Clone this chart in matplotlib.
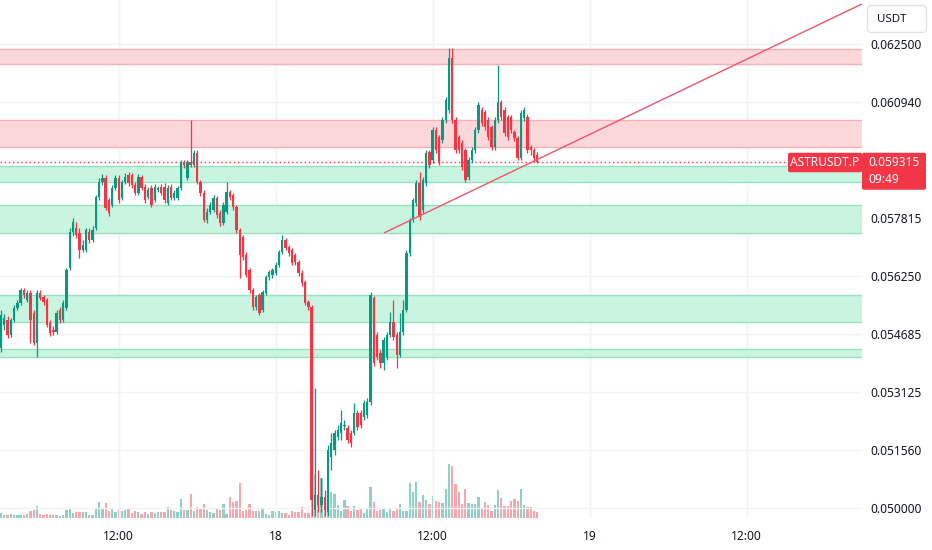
import matplotlib
matplotlib.use("Agg")
import matplotlib.pyplot as plt
from matplotlib.patches import FancyBboxPatch
import numpy as np

plt.rcParams['font.family'] = ['Noto Sans', 'DejaVu Sans']

# ---------------- data (15-minute candles, ASTRUSDT.P) ----------------
opens = [
0.054311,0.054930,0.055065,0.054661,0.055065,0.055389,0.055523,0.055873,0.055604,0.055793,
0.055254,0.054446,0.055793,0.055685,0.055604,0.054984,0.054796,0.054742,0.055335,0.055065,
0.055389,0.056466,0.057436,0.057544,0.057409,0.056951,0.056951,0.057436,0.057220,0.057544,
0.058379,0.058783,0.058891,0.058298,0.058163,0.058621,0.058891,0.058352,0.058783,0.058972,
0.058972,0.058702,0.058487,0.058918,0.058648,0.058379,0.058621,0.058298,0.058567,0.058648,
0.058648,0.058217,0.058648,0.058352,0.058352,0.058621,0.059322,0.058891,0.059322,0.059241,
0.059564,0.058783,0.058487,0.057759,0.057975,0.058029,0.058352,0.057948,0.057678,0.057975,
0.058514,0.058433,0.058109,0.057490,0.057301,0.056816,0.056412,0.055873,0.055415,0.055739,
0.055335,0.055793,0.056224,0.056277,0.056331,0.056547,0.056897,0.057220,0.057032,0.056951,
0.056816,0.056628,0.056331,0.056089,0.055550,0.055415,0.049947,0.050351,0.050081,0.050297,
0.049893,0.051374,0.051563,0.051913,0.052021,0.052210,0.052156,0.052021,0.052021,0.052560,
0.052560,0.052452,0.052506,0.052856,0.055658,0.054661,0.054176,0.053907,0.054068,0.054661,
0.055011,0.054661,0.054122,0.054742,0.055335,0.056870,0.057759,0.058217,0.058756,0.058029,
0.058756,0.059591,0.059376,0.060184,0.059995,0.059914,0.060453,0.060723,0.062123,0.060453,
0.059995,0.059834,0.059645,0.058918,0.059376,0.059645,0.060184,0.060723,0.060669,0.060453,
0.060265,0.059726,0.060453,0.060938,0.060723,0.060534,0.060534,0.060130,0.059968,0.059430,
0.060507,0.060534,0.059726,0.059645,0.059510]
highs = [
0.055335,0.055227,0.055173,0.055119,0.055469,0.055604,0.055927,0.055927,0.055873,0.055873,
0.055335,0.055873,0.055873,0.055739,0.055658,0.055065,0.054904,0.055335,0.055415,0.055604,
0.056466,0.057544,0.057813,0.057705,0.057544,0.057220,0.057544,0.057544,0.057598,0.058433,
0.058891,0.058998,0.058972,0.058352,0.058702,0.058972,0.058972,0.058837,0.059025,0.059052,
0.059025,0.058783,0.058998,0.058972,0.058729,0.058648,0.058702,0.058729,0.058675,0.058729,
0.058756,0.058702,0.058729,0.058567,0.058675,0.059376,0.059376,0.059376,0.060453,0.059645,
0.059645,0.058837,0.058567,0.058083,0.058244,0.058433,0.058406,0.058029,0.058244,0.058783,
0.058567,0.058487,0.058163,0.057544,0.057355,0.056897,0.056466,0.055927,0.055739,0.055793,
0.055873,0.056277,0.056412,0.056466,0.056628,0.056951,0.057355,0.057274,0.057086,0.057005,
0.056870,0.056682,0.056412,0.056143,0.055604,0.055469,0.053233,0.051024,0.050809,0.050485,
0.051698,0.052021,0.052102,0.052236,0.052641,0.052371,0.052236,0.052102,0.052829,0.052641,
0.052641,0.052910,0.052964,0.055820,0.055712,0.054742,0.054257,0.054607,0.054742,0.055281,
0.055604,0.054742,0.055254,0.055604,0.056951,0.057813,0.058352,0.058837,0.059052,0.058918,
0.059645,0.059645,0.060265,0.060265,0.060049,0.060534,0.061073,0.062393,0.062393,0.060534,
0.060049,0.059914,0.059699,0.059456,0.059726,0.060265,0.060938,0.060803,0.060723,0.060534,
0.060318,0.060534,0.061935,0.060992,0.060803,0.060588,0.060588,0.060184,0.060022,0.060723,
0.060803,0.060615,0.059780,0.059699,0.059591]
lows = [
0.054203,0.054796,0.054580,0.054607,0.055011,0.055335,0.055469,0.055658,0.055550,0.054446,
0.054392,0.054068,0.055604,0.055469,0.054877,0.054634,0.054661,0.054688,0.054984,0.055011,
0.055335,0.056412,0.057328,0.057274,0.056735,0.056897,0.056897,0.057140,0.057166,0.057490,
0.058298,0.058702,0.058029,0.057867,0.058109,0.058567,0.058217,0.058298,0.058729,0.058675,
0.058621,0.058433,0.058433,0.058567,0.058217,0.058325,0.058109,0.058244,0.058514,0.058433,
0.058217,0.058163,0.058298,0.058298,0.058298,0.058567,0.059160,0.058837,0.059187,0.059187,
0.058729,0.058406,0.057705,0.057678,0.057921,0.057975,0.057813,0.057598,0.057624,0.057921,
0.058298,0.058029,0.057409,0.056197,0.056682,0.056224,0.055793,0.055335,0.055335,0.055200,
0.055281,0.055739,0.056143,0.056197,0.056277,0.056493,0.056843,0.056951,0.056789,0.056547,
0.056547,0.056251,0.055981,0.055469,0.055335,0.049785,0.049785,0.049893,0.049893,0.049785,
0.049785,0.051024,0.051428,0.051832,0.051832,0.052102,0.051752,0.051644,0.051967,0.052102,
0.052156,0.052371,0.052425,0.052775,0.053826,0.053988,0.053772,0.053718,0.053988,0.054607,
0.054526,0.053772,0.054068,0.054661,0.055281,0.056789,0.057705,0.058136,0.057759,0.057948,
0.058675,0.059160,0.059295,0.059564,0.059241,0.059834,0.060372,0.060642,0.060372,0.059564,
0.059564,0.059106,0.058783,0.058837,0.059295,0.059564,0.060103,0.060292,0.060184,0.059914,
0.059645,0.059645,0.060372,0.060453,0.060022,0.059914,0.060103,0.059887,0.059376,0.059376,
0.060426,0.059564,0.059510,0.059349,0.059295]
closes = [
0.055200,0.055119,0.054661,0.055065,0.055389,0.055523,0.055873,0.055739,0.055793,0.055065,
0.054446,0.055793,0.055658,0.055550,0.054930,0.054715,0.054742,0.055254,0.055065,0.055523,
0.056412,0.057436,0.057705,0.057355,0.056951,0.057086,0.057490,0.057220,0.057490,0.058379,
0.058783,0.058891,0.058083,0.057948,0.058621,0.058891,0.058298,0.058783,0.058918,0.058756,
0.058702,0.058487,0.058918,0.058621,0.058298,0.058567,0.058163,0.058648,0.058621,0.058487,
0.058298,0.058621,0.058352,0.058487,0.058621,0.059322,0.059241,0.059322,0.059241,0.059564,
0.058783,0.058487,0.057759,0.057975,0.058163,0.058352,0.057894,0.057678,0.058163,0.058514,
0.058379,0.058109,0.057490,0.056816,0.056762,0.056277,0.055873,0.055415,0.055685,0.055254,
0.055820,0.056224,0.056358,0.056412,0.056547,0.056897,0.057220,0.057005,0.056870,0.056601,
0.056628,0.056331,0.056062,0.055523,0.055415,0.050216,0.050351,0.050081,0.050297,0.049947,
0.051563,0.051752,0.052021,0.052102,0.052290,0.052236,0.051832,0.051752,0.052560,0.052183,
0.052236,0.052829,0.052856,0.055739,0.053907,0.054068,0.053907,0.054526,0.054661,0.055011,
0.054607,0.054122,0.054742,0.055335,0.056870,0.057759,0.058298,0.058756,0.057840,0.058837,
0.059564,0.059241,0.060184,0.059645,0.059322,0.060453,0.060992,0.062123,0.060453,0.059645,
0.059645,0.059187,0.058837,0.059376,0.059645,0.060184,0.060857,0.060372,0.060265,0.059995,
0.059726,0.060453,0.060938,0.060534,0.060103,0.059995,0.060184,0.059968,0.059430,0.060642,
0.060723,0.059645,0.059645,0.059430,0.059315]
volumes = [
5,3,3,4,3,3,3,3,4,7, 8,12,4,3,4,3,3,3,2,3,
8,10,5,6,6,6,6,3,3,9, 16,10,15,7,10,6,9,7,8,10,
5,7,6,4,6,4,6,5,6,6, 6,11,8,7,6,19,8,8,24,7,
11,9,14,8,6,5,9,8,14,4, 21,16,17,35,7,8,14,7,7,7,
9,4,3,7,6,7,5,5,3,7, 6,6,11,5,5,60,44,20,40,19,
26,26,24,13,7,18,12,7,12,8, 10,5,9,31,16,7,8,9,6,9,
7,9,14,7,7,35,26,36,16,23, 18,14,22,17,16,15,29,54,52,34,
26,14,29,15,14,14,21,9,16,13, 7,13,28,20,12,12,17,19,17,29,
13,11,11,7,6]

# horizontal supply / demand zones (price bottom, price top)
red_zones = [(0.06196, 0.06237), (0.05973, 0.06045)]
green_zones = [(0.05878, 0.05921), (0.05741, 0.05816), (0.05501, 0.05574), (0.05407, 0.05428)]

# trend line (candle index, price)
trend_x = [117.1, 263.3]
trend_y = [0.05741, 0.06358]

price_ticks = [0.0500, 0.05156, 0.053125, 0.054685, 0.05625, 0.057815, 0.06094, 0.0625]
price_tick_labels = ['0.050000', '0.051560', '0.053125', '0.054685', '0.056250', '0.057815', '0.060940', '0.062500']
time_ticks = [36, 84, 132, 180, 228]
time_labels = ['12:00', '18', '12:00', '19', '12:00']
symbol = 'ASTRUSDT.P'
last_price_label = '0.059315'
countdown = '09:49'
currency = 'USDT'

# ---------------- styling ----------------
UP = '#089981'
DN = '#f23645'
UP_VOL = '#8fd1c6'
DN_VOL = '#f7a6ad'
TXT = '#131722'
GRID = '#f1f3f6'

W, H = 932, 550
fig = plt.figure(figsize=(W / 100, H / 100), dpi=100, facecolor='white')
rect = [0, 32 / H, 862 / W, 518 / H]
XLIM = (-0.31, 263.3)
YLIM = (0.049731, 0.063686)

axv = fig.add_axes(rect, zorder=0)
ax = fig.add_axes(rect, zorder=1)
ax.patch.set_alpha(0)
for a in (ax, axv):
    a.set_xlim(*XLIM)
    for s in a.spines.values():
        s.set_visible(False)

n = len(closes)
idx = np.arange(n)
up = np.array(closes) >= np.array(opens)

# volume
axv.set_ylim(0, 518)
axv.bar(idx, volumes, width=0.7, color=[UP_VOL if u else DN_VOL for u in up], linewidth=0)
axv.set_xticks([]); axv.set_yticks([])
axv.patch.set_facecolor('white')

ax.set_ylim(*YLIM)

# grid
for p in price_ticks + [0.059375]:
    ax.axhline(p, color=GRID, lw=1, zorder=0)
for t in time_ticks:
    ax.axvline(t, color=GRID, lw=1, zorder=0)
    axv.axvline(t, color=GRID, lw=1, zorder=0)

# zones: fill plus top/bottom border lines only
for b, t in red_zones:
    ax.axhspan(b, t, facecolor='#fdd8db', edgecolor='none', zorder=1)
    ax.axhline(b, color='#f8aeb5', lw=1, zorder=1.1)
    ax.axhline(t, color='#f8aeb5', lw=1, zorder=1.1)
for b, t in green_zones:
    ax.axhspan(b, t, facecolor='#c9f4e0', edgecolor='none', zorder=1)
    ax.axhline(b, color='#96e2bf', lw=1, zorder=1.1)
    ax.axhline(t, color='#96e2bf', lw=1, zorder=1.1)

# candles
minh = (YLIM[1] - YLIM[0]) / 518 * 0.9
for i in range(n):
    o, h, l, c = opens[i], highs[i], lows[i], closes[i]
    col = UP if up[i] else DN
    ax.vlines(i, l, h, color=col, lw=0.9, zorder=3)
    bh = max(abs(c - o), minh)
    ax.bar(i, bh, bottom=min(o, c), width=0.72, color=col, linewidth=0, zorder=4)

# trend line
ax.plot(trend_x, trend_y, color='#f2546a', lw=1.0, zorder=5, solid_capstyle='butt')

# last price dotted line
ax.axhline(closes[-1], color=DN, lw=1, ls=(0, (1, 2)), zorder=2)

# axes ticks
ax.yaxis.tick_right()
ax.set_yticks(price_ticks)
ax.set_yticklabels(price_tick_labels)
ax.set_xticks(time_ticks)
ax.set_xticklabels(time_labels)
ax.tick_params(axis='y', length=0, pad=6, labelsize=8.6, labelcolor=TXT)
ax.tick_params(axis='x', length=0, pad=9, labelsize=8.6, labelcolor=TXT)

# overlay in pixel coords for labels
ov = fig.add_axes([0, 0, 1, 1], zorder=5)
ov.set_xlim(0, W); ov.set_ylim(H, 0); ov.axis('off')
fig.canvas.draw()
yd = ax.transData.transform((0, closes[-1]))[1]
yc = H - yd

ov.add_patch(FancyBboxPatch((788, yc - 9.5), 74, 19.5, boxstyle='round,pad=0,rounding_size=2',
                            facecolor=DN, edgecolor='none'))
ov.text(825, yc + 0.5, symbol, color='white', fontsize=8.6, ha='center', va='center')
ov.add_patch(FancyBboxPatch((862, yc - 9.5), 64, 37, boxstyle='round,pad=0,rounding_size=2',
                            facecolor=DN, edgecolor='none'))
ov.text(868, yc + 0.5, last_price_label, color='white', fontsize=8.6, ha='left', va='center',
        fontweight='bold')
ov.text(868, yc + 17, countdown, color='white', fontsize=8.6, ha='left', va='center')

ov.add_patch(FancyBboxPatch((867.5, 5.5), 59, 27, boxstyle='round,pad=0,rounding_size=4',
                            facecolor='white', edgecolor='#e0e3eb', lw=1))
ov.text(877, 19.5, currency, color=TXT, fontsize=8.3, ha='left', va='center')

fig.savefig('out.png', dpi=100, facecolor='white')
